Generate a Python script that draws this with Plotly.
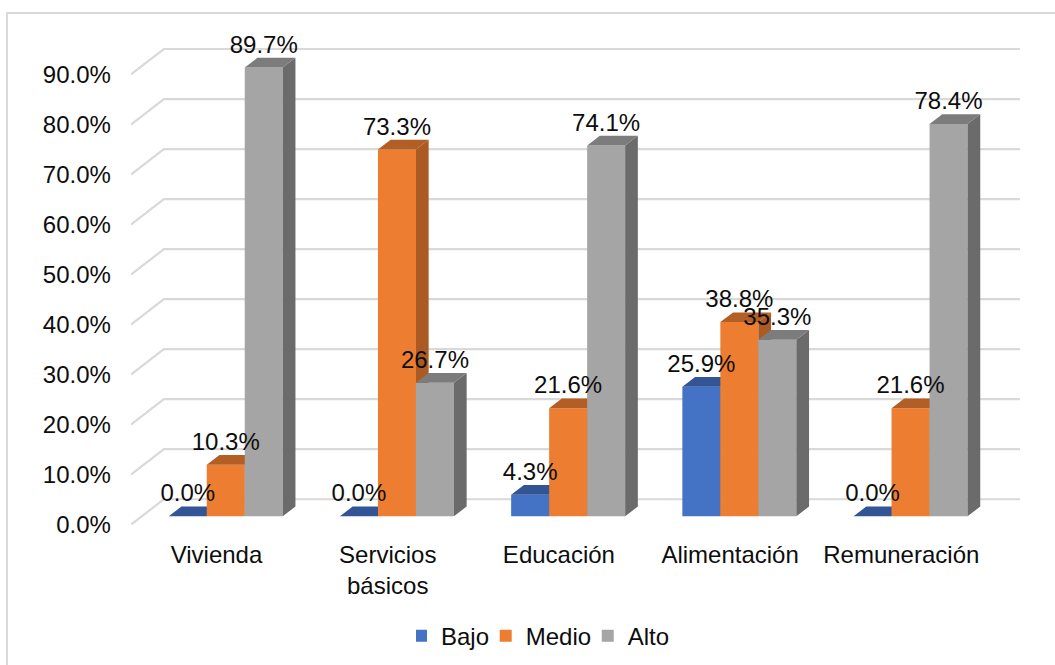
import plotly.graph_objects as go

categories = ["Vivienda", "Servicios<br>básicos", "Educación", "Alimentación", "Remuneración"]
series_names = ["Bajo\u00a0", "Medio\u00a0", "Alto"]
bajo = [0.0, 0.0, 4.3, 25.9, 0.0]
medio = [10.3, 73.3, 21.6, 38.8, 21.6]
alto = [89.7, 26.7, 74.1, 35.3, 78.4]
y_ticks = [0, 10, 20, 30, 40, 50, 60, 70, 80, 90]
y_tick_labels = ["0.0%", "10.0%", "20.0%", "30.0%", "40.0%", "50.0%", "60.0%", "70.0%", "80.0%", "90.0%"]

front_colors = ["#4472C4", "#ED7D31", "#A5A5A5"]
top_colors = ["#335595", "#B25E25", "#7C7C7C"]
side_colors = ["#2C4B84", "#AB5A23", "#6B6B6B"]

W, H = 1055, 665
LAYOUT_H = 677
PX_X = 171.2
PX_Y = 5.01
X0_PX = 216.5
Y0_PX = 517.0
LEFT, RIGHT, TOP, BOTTOM = 130.9, 1020.0, 30.0, 525.5
FS = 24

x_rng = [(LEFT - X0_PX) / PX_X, (RIGHT - X0_PX) / PX_X]
y_rng = [(Y0_PX - BOTTOM) / PX_Y, (Y0_PX - TOP) / PX_Y]
bar_w = 38.0 / PX_X
shift = 9.25 / PX_X
dx, dy = 12.7 / PX_X, 9.7 / PX_Y
grid_front, grid_back = y_rng[0], 17.0 / PX_Y
grid_dx = 33.0 / PX_X

fig = go.Figure()

gx, gy = [], []
for t in y_ticks:
    gx += [x_rng[0], x_rng[0] + grid_dx, x_rng[1], None]
    gy += [t + grid_front, t + grid_back, t + grid_back, None]
fig.add_trace(go.Scatter(x=gx, y=gy, mode="lines", line=dict(color="#D9D9D9", width=2.2),
                         showlegend=False, hoverinfo="skip", zorder=0))

for s, vals in enumerate([bajo, medio, alto]):
    z = 1 + s
    lefts = [i + shift + (s - 1.5) * bar_w for i in range(len(vals))]
    fig.add_trace(go.Bar(x=[l + bar_w / 2 for l in lefts], y=vals, width=bar_w, name=series_names[s],
                         marker=dict(color=front_colors[s], line=dict(width=0)), zorder=z))
    tx, ty, sx, sy = [], [], [], []
    for l, v in zip(lefts, vals):
        r = l + bar_w
        tx += [l, l + dx, r + dx, r, l, None]
        ty += [v, v + dy, v + dy, v, v, None]
        sx += [r, r + dx, r + dx, r, r, None]
        sy += [0, dy, v + dy, v, 0, None]
    fig.add_trace(go.Scatter(x=sx, y=sy, mode="lines", fill="toself", fillcolor=side_colors[s],
                             line=dict(width=0, color=side_colors[s]), showlegend=False, hoverinfo="skip", zorder=z))
    fig.add_trace(go.Scatter(x=tx, y=ty, mode="lines", fill="toself", fillcolor=top_colors[s],
                             line=dict(width=0, color=top_colors[s]), showlegend=False, hoverinfo="skip", zorder=z))

for s, vals in enumerate([bajo, medio, alto]):
    lefts = [i + shift + (s - 1.5) * bar_w for i in range(len(vals))]
    fig.add_trace(go.Scatter(x=[l + bar_w / 2 for l in lefts], y=[v + 4.2 for v in vals], mode="text",
                             text=[f"{v:.1f}%" for v in vals], textposition="middle center",
                             textfont=dict(size=FS, color="#0D0D0D"), cliponaxis=False,
                             showlegend=False, hoverinfo="skip", zorder=10))

fig.update_layout(
    width=W, height=LAYOUT_H, autosize=False,
    margin=dict(l=0, r=0, t=0, b=0),
    paper_bgcolor="white", plot_bgcolor="rgba(0,0,0,0)",
    barmode="overlay",
    font=dict(family="Liberation Sans, Arial, sans-serif", size=FS, color="#0D0D0D"),
    xaxis=dict(domain=[LEFT / W, RIGHT / W], range=x_rng, showgrid=False, zeroline=False, showline=False,
               tickmode="array", tickvals=list(range(len(categories))), ticktext=categories,
               ticks="", ticklabelstandoff=13, tickfont=dict(size=FS)),
    yaxis=dict(domain=[1 - BOTTOM / H, 1 - TOP / H], range=y_rng, showgrid=False, zeroline=False, showline=False,
               tickmode="array", tickvals=[t + grid_front for t in y_ticks], ticktext=y_tick_labels,
               ticks="", ticklabelstandoff=19, tickfont=dict(size=FS)),
    legend=dict(orientation="h", x=416 / W, xanchor="left", y=1 - 637 / H, yanchor="middle",
                font=dict(size=FS), itemwidth=30, indentation=-15, bgcolor="rgba(0,0,0,0)"),
    shapes=[dict(type="rect", xref="paper", yref="paper", x0=7 / W, x1=1.05, y0=-0.05, y1=1 - 13 / H,
                 line=dict(color="#D9D9D9", width=2), layer="below")],
)
fig.write_html("out.html", config={"displayModeBar": False},
               post_script="document.body.style.margin='0';document.documentElement.style.overflow='hidden';")
